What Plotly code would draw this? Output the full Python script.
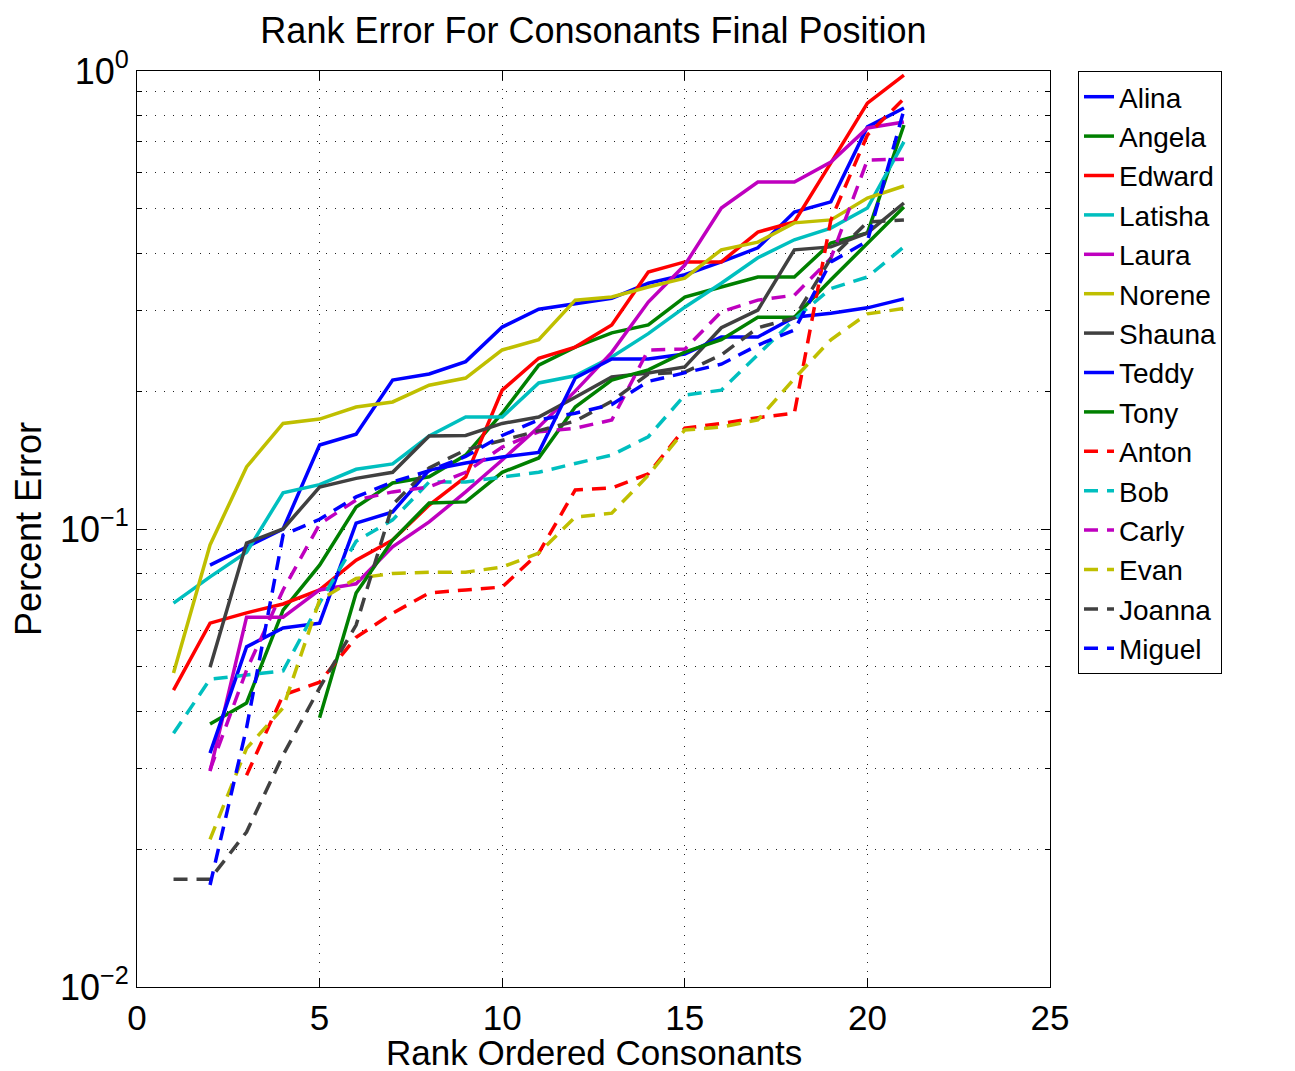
import plotly.graph_objects as go

# ---------------- data ----------------
rank = list(range(1, 22))

alina   = [None, 0.0834, 0.0914, 0.100, 0.1525, 0.161, 0.2115, 0.218, 0.232, 0.276, 0.302, 0.310, 0.319, 0.344, 0.359, 0.383, 0.411, 0.492, 0.518, 0.755, 0.83]
angela  = [None, 0.0375, 0.0417, 0.0665, 0.0834, 0.1117, 0.126, 0.130, 0.145, 0.179, 0.228, 0.2496, 0.268, 0.279, 0.321, 0.3376, 0.355, 0.355, 0.421, 0.443, 0.762]
edward  = [0.0445, 0.0623, 0.0656, 0.0686, 0.0736, 0.0855, 0.0946, 0.1128, 0.130, 0.201, 0.236, 0.2496, 0.279, 0.364, 0.383, 0.383, 0.445, 0.468, 0.63, 0.851, 0.98]
latisha = [0.0689, 0.0786, 0.089, 0.120, 0.125, 0.135, 0.1387, 0.1596, 0.1756, 0.1756, 0.2084, 0.216, 0.2374, 0.267, 0.305, 0.344, 0.391, 0.428, 0.454, 0.502, 0.70]
laura   = [None, 0.0296, 0.0642, 0.0642, 0.0736, 0.0759, 0.0914, 0.1036, 0.1205, 0.1415, 0.167, 0.200, 0.243, 0.313, 0.377, 0.502, 0.572, 0.572, 0.633, 0.751, 0.774]
norene  = [0.0485, 0.0923, 0.1366, 0.170, 0.1738, 0.1846, 0.1894, 0.206, 0.2136, 0.246, 0.259, 0.316, 0.321, 0.3376, 0.353, 0.407, 0.423, 0.466, 0.473, 0.528, 0.561]
shauna  = [None, 0.0499, 0.0932, 0.100, 0.1235, 0.129, 0.133, 0.1596, 0.160, 0.170, 0.1756, 0.194, 0.2147, 0.219, 0.2258, 0.275, 0.3006, 0.407, 0.413, 0.443, 0.515]
teddy   = [None, 0.0324, 0.0553, 0.0608, 0.0623, 0.103, 0.109, 0.1345, 0.1394, 0.1436, 0.147, 0.2137, 0.235, 0.235, 0.241, 0.2626, 0.2626, 0.290, 0.296, 0.304, 0.318]
tony    = [None, None, None, None, 0.0387, 0.0725, 0.0946, 0.114, 0.1146, 0.133, 0.1429, 0.1846, 0.2115, 0.2225, 0.2434, 0.259, 0.290, 0.290, 0.350, 0.421, 0.505]
anton   = [None, None, 0.029, 0.0434, 0.0463, 0.058, 0.0655, 0.0725, 0.0736, 0.0747, 0.0886, 0.1217, 0.1229, 0.132, 0.166, 0.170, 0.175, 0.179, 0.473, 0.725, 0.87]
bob     = [0.0358, 0.047, 0.048, 0.049, 0.069, 0.094, 0.1047, 0.1267, 0.1267, 0.130, 0.133, 0.139, 0.145, 0.159, 0.196, 0.201, 0.240, 0.287, 0.335, 0.355, 0.413]
carly   = [None, 0.0298, 0.0492, 0.0736, 0.1025, 0.1157, 0.1205, 0.1235, 0.133, 0.151, 0.163, 0.166, 0.173, 0.246, 0.247, 0.298, 0.316, 0.324, 0.39, 0.639, 0.642]
evan    = [None, 0.021, 0.0332, 0.0407, 0.070, 0.078, 0.080, 0.0805, 0.0805, 0.0826, 0.0886, 0.1062, 0.1083, 0.131, 0.1645, 0.167, 0.173, 0.213, 0.259, 0.295, 0.303]
joanna  = [0.0172, 0.0172, 0.0218, 0.0321, 0.045, 0.0617, 0.113, 0.136, 0.1488, 0.156, 0.164, 0.172, 0.19, 0.218, 0.22, 0.24, 0.275, 0.289, 0.39, 0.468, 0.473]
miguel  = [None, 0.0167, 0.0368, 0.097, 0.105, 0.1175, 0.1267, 0.134, 0.144, 0.160, 0.173, 0.179, 0.187, 0.21, 0.219, 0.229, 0.252, 0.272, 0.383, 0.425, 0.822]

names = ["Alina", "Angela", "Edward", "Latisha", "Laura", "Norene", "Shauna", "Teddy", "Tony",
         "Anton", "Bob", "Carly", "Evan", "Joanna", "Miguel"]
values = [alina, angela, edward, latisha, laura, norene, shauna, teddy, tony,
          anton, bob, carly, evan, joanna, miguel]

x_ticks = [0, 5, 10, 15, 20, 25]
y_ticks = [0.01, 0.1, 1]
y_ticktext = ["10<sup>\u22122</sup>", "10<sup>\u22121</sup>", "10<sup>0</sup>"]

# ---------------- styles ----------------
BLUE, GREEN, RED, CYAN, MAG, YEL, GRAY = "#0000FF", "#008000", "#FF0000", "#00BFBF", "#BF00BF", "#BFBF00", "#404040"
colors = [BLUE, GREEN, RED, CYAN, MAG, YEL, GRAY, BLUE, GREEN, RED, CYAN, MAG, YEL, GRAY, BLUE]
dashes = ["solid"] * 9 + ["14px,9px"] * 6

FONT = "Liberation Sans, Arial, Helvetica, sans-serif"

# page body has an 8px default margin; figure is sized so the page matches 1295x1071
W, H = 1287, 1063
L, T = 129, 63
PW = 913   # plot width (px)
PH = 916   # plot height (px)

fig = go.Figure()
for nm, vals, col, ds in zip(names, values, colors, dashes):
    fig.add_trace(go.Scatter(x=rank, y=vals, mode="lines", name=nm,
                             line=dict(color=col, width=3.5, dash=ds)))

minor_vals = [m * 10.0 ** e for e in (-2, -1) for m in range(2, 10)]
GRID = dict(showgrid=True, gridcolor="#222222", gridwidth=1, griddash="1px,8px")

fig.update_layout(
    width=W, height=H, autosize=False,
    margin=dict(l=L, r=W - L - PW, t=T, b=H - T - PH, pad=0),
    paper_bgcolor="white", plot_bgcolor="white",
    font=dict(family=FONT, size=36, color="black"),
    title=dict(text="Rank Error For Consonants Final Position", x=0.5, xref="paper",
               xanchor="center", y=1 - 22 / H, yref="container", yanchor="middle",
               font=dict(size=36, color="black")),
    legend=dict(x=(1078 - 137) / PW, xanchor="left", y=1, yanchor="top",
                bordercolor="black", borderwidth=1, bgcolor="white",
                font=dict(size=28, color="black"), tracegroupgap=0),
    annotations=[dict(text="Rank Ordered Consonants", x=0.5, xref="paper", xanchor="center",
                      y=-(1052 - 987) / PH, yref="paper", yanchor="middle", showarrow=False,
                      font=dict(size=35, color="black"))],
)
fig.update_xaxes(range=[0, 25], tickmode="array", tickvals=x_ticks, ticks="inside", ticklen=9,
                 tickcolor="black", showline=True, mirror="ticks", linecolor="black", linewidth=1,
                 zeroline=False, tickfont=dict(size=35), automargin=False,
                 **GRID)
fig.update_yaxes(type="log", range=[-2, 0], tickmode="array", tickvals=y_ticks, ticktext=y_ticktext,
                 ticks="inside", ticklen=9, tickcolor="black", showline=True, mirror="ticks",
                 linecolor="black", linewidth=1, zeroline=False, tickfont=dict(size=36),
                 automargin=False,
                 title=dict(text="Percent Error", font=dict(size=36), standoff=8),
                 minor=dict(tickmode="array", tickvals=minor_vals, ticks="inside", ticklen=5,
                            tickcolor="black", **GRID),
                 **GRID)

fig.write_html("out.html")
